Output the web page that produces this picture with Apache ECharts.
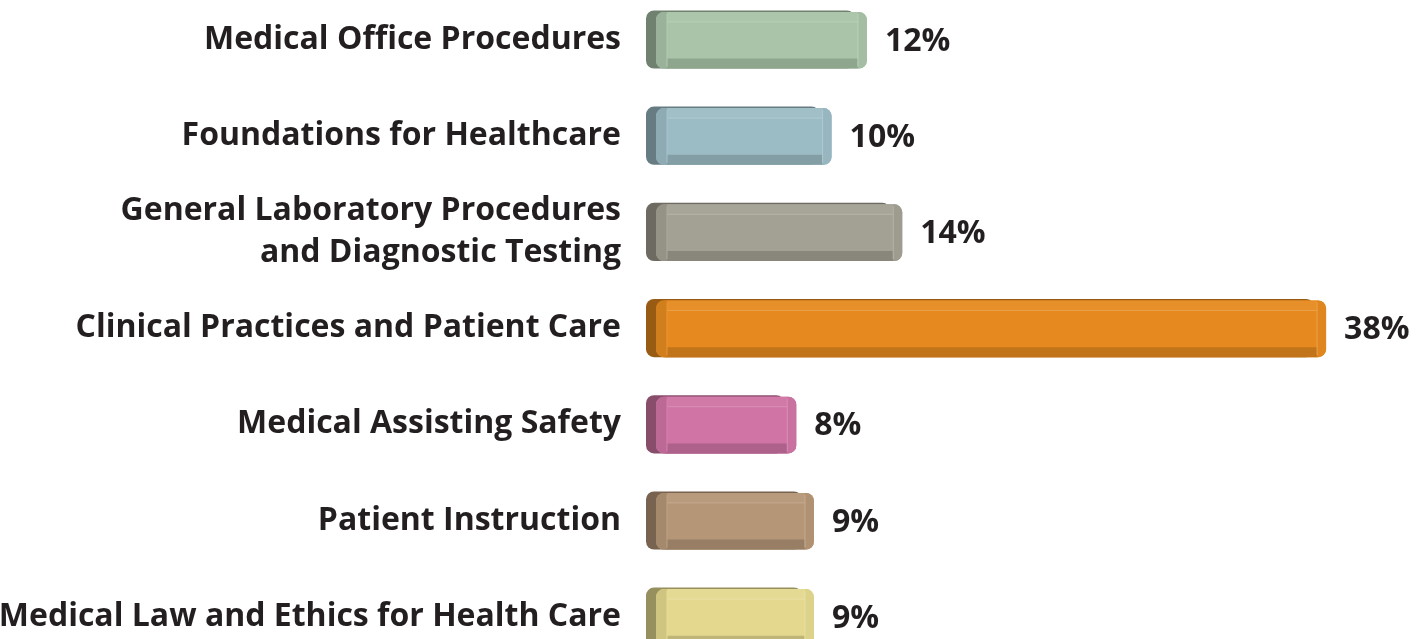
<!DOCTYPE html>
<html>
<head>
<meta charset="utf-8">
<script src="https://cdn.jsdelivr.net/npm/echarts@6/dist/echarts.min.js"></script>
<style>
html,body{margin:0;padding:0;background:#fff;}
#chart{width:1427px;height:639px;}
</style>
</head>
<body>
<div id="chart"></div>
<script>
const categories = [
  'Medical Office Procedures',
  'Foundations for Healthcare',
  'General Laboratory Procedures\nand Diagnostic Testing',
  'Clinical Practices and Patient Care',
  'Medical Assisting Safety',
  'Patient Instruction',
  'Medical Law and Ethics for Health Care'
];
const percentages = [12, 10, 14, 38, 8, 9, 9];
const faceColors = ['#A9C4A9', '#9CBCC5', '#A3A193', '#E68A1F', '#CF74A4', '#B59677', '#E3D88E'];

function shade(hex, f) {
  const n = parseInt(hex.slice(1), 16);
  let r = (n >> 16) & 255, g = (n >> 8) & 255, b = n & 255;
  if (f <= 1) { r *= f; g *= f; b *= f; }
  else { const t = f - 1; r += (255 - r) * t; g += (255 - g) * t; b += (255 - b) * t; }
  const c = v => Math.max(0, Math.min(255, Math.round(v))).toString(16).padStart(2, '0');
  return '#' + c(r) + c(g) + c(b);
}

const FONT = '"Open Sans", Lato, sans-serif';
const chart = echarts.init(document.getElementById('chart'));

chart.setOption({
  animation: false,
  backgroundColor: '#ffffff',
  grid: { left: 655, right: 65.6, top: -8.6, height: 673.4, containLabel: false, outerBoundsMode: 'none' },
  xAxis: { type: 'value', min: 0, max: 40, show: false },
  yAxis: {
    type: 'category', inverse: true, data: categories,
    axisLine: { show: false }, axisTick: { show: false }, splitLine: { show: false },
    axisLabel: { margin: 34, fontSize: 32, fontWeight: 'bold', fontFamily: FONT, color: '#231F20', lineHeight: 42 }
  },
  series: [
    {
      type: 'custom',
      data: percentages.map((v, i) => [v, i]),
      encode: { x: 0, y: 1 },
      renderItem: function (params, api) {
        const idx = api.value(1), v = api.value(0);
        const p0 = api.coord([0, idx]), p1 = api.coord([v, idx]);
        const band = api.size([0, 1])[1];
        const h = band * 0.605;
        const top = p0[1] - h / 2;
        const left = p0[0] - 9;
        const right = p1[0];
        const face = faceColors[idx];
        const r = 8;
        const fx = left + 10, fy = top + 1.5, fw = right - fx, fh = h - 1.5;
        return {
          type: 'group',
          children: [
            { type: 'rect', shape: { x: left, y: top, width: right - left - 12, height: h, r: r }, style: { fill: shade(face, 0.66) } },
            { type: 'rect', shape: { x: fx, y: fy, width: fw, height: fh, r: r }, style: { fill: face } },
            { type: 'rect', shape: { x: fx + 10, y: fy, width: fw - 19, height: 10 }, style: { fill: shade(face, 1.04) } },
            { type: 'line', shape: { x1: fx + 10, y1: fy + 10, x2: right - 9, y2: fy + 10 }, style: { stroke: shade(face, 1.2), lineWidth: 1 } },
            { type: 'rect', shape: { x: fx + 10, y: fy + fh - 10, width: fw - 19, height: 10 }, style: { fill: shade(face, 0.84) } },
            { type: 'rect', shape: { x: fx, y: fy, width: 11, height: fh, r: [r, 0, 0, r] }, style: { fill: shade(face, 0.91) } },
            { type: 'rect', shape: { x: right - 9, y: fy, width: 9, height: fh, r: [0, r, r, 0] }, style: { fill: shade(face, 0.97) } },
            { type: 'line', shape: { x1: right - 9, y1: fy + 2, x2: right - 9, y2: fy + fh - 2 }, style: { stroke: shade(face, 1.2), lineWidth: 1 } },
            { type: 'line', shape: { x1: fx + 11, y1: fy + 2, x2: fx + 11, y2: fy + fh - 2 }, style: { stroke: shade(face, 1.1), lineWidth: 1 } }
          ]
        };
      },
      z: 2
    },
    {
      type: 'bar',
      data: percentages,
      barWidth: 58,
      itemStyle: { color: 'rgba(0,0,0,0)' },
      label: {
        show: true, position: 'right', distance: 18, offset: [0, 2],
        formatter: '{c}%', fontSize: 32, fontWeight: 'bold', fontFamily: FONT, color: '#231F20'
      },
      z: 3
    }
  ]
});
</script>
</body>
</html>
